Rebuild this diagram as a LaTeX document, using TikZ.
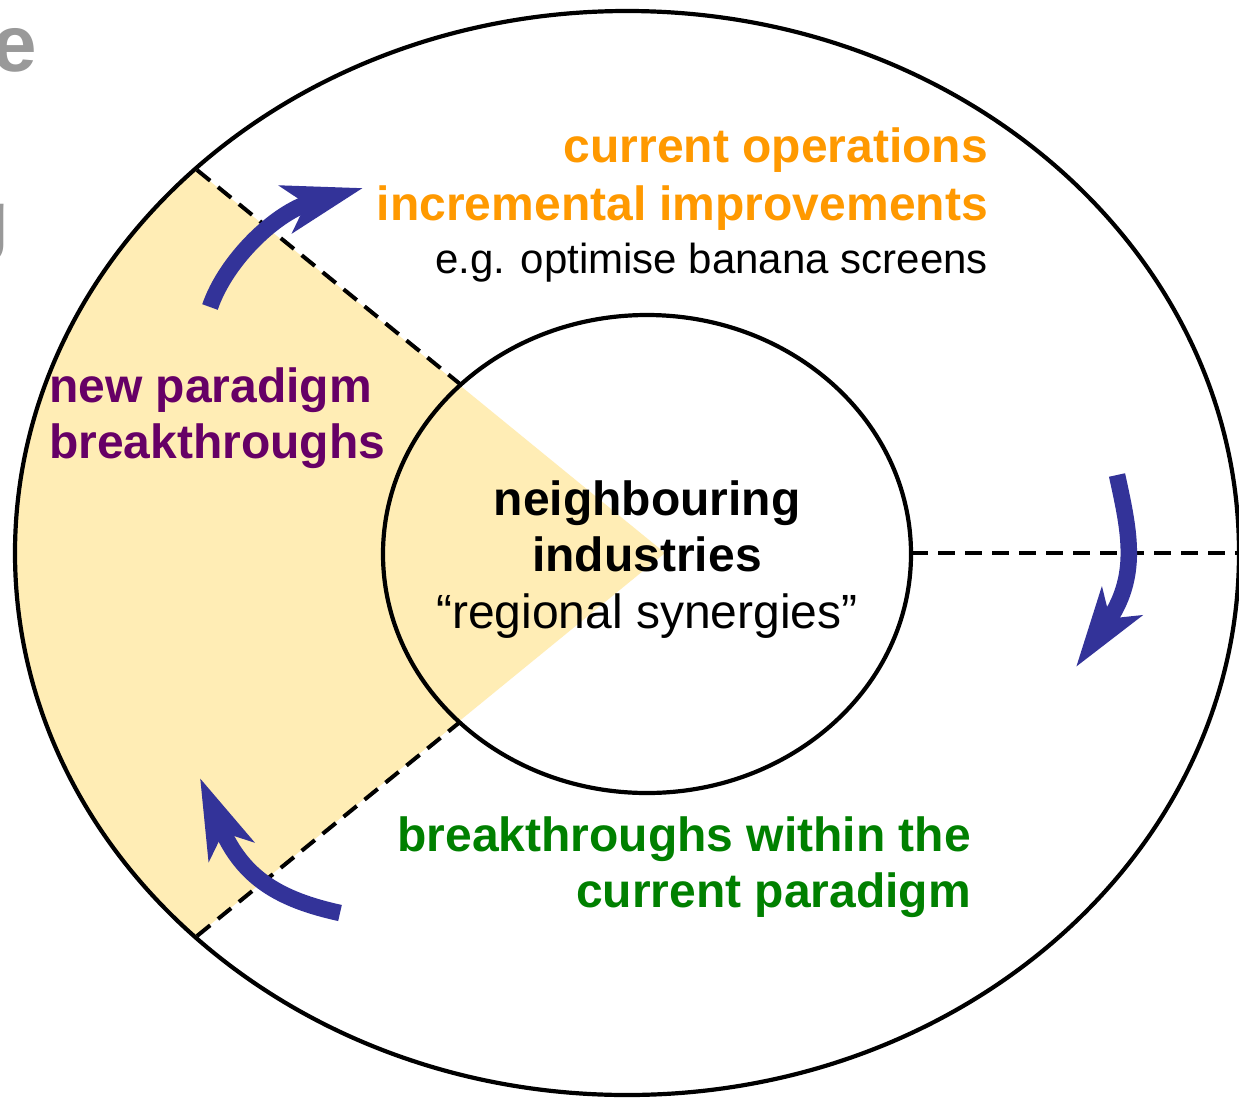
\documentclass[tikz,border=0pt]{standalone}
\usepackage{fontspec}
\setmainfont{Liberation Sans}
\usetikzlibrary{arrows.meta}
\definecolor{orangeT}{HTML}{FF9900}
\definecolor{purpleT}{HTML}{660066}
\definecolor{greenT}{HTML}{008000}
\definecolor{arrowblue}{HTML}{333399}
\definecolor{wedgeY}{HTML}{FFEDB5}
\definecolor{greyT}{HTML}{999999}
\begin{document}
\begin{tikzpicture}[x=1pt,y=-1pt,
  ring/.style={draw=black, line width=4.2pt},
  divider/.style={draw=black, line width=4pt, dash pattern=on 17pt off 10pt},
  bigarrow/.style={draw=arrowblue, line width=16.5pt,
     -{Stealth[length=79pt,width=48pt,inset=20pt]}},
  lab/.style={inner sep=0pt, font=\fontsize{48}{58}\selectfont},
  labB/.style={lab, font=\fontsize{48}{58}\selectfont\bfseries},
  small/.style={inner sep=0pt, font=\fontsize{42}{50}\selectfont},
  ghost/.style={inner sep=0pt, text=greyT, font=\fontsize{80}{96}\selectfont\bfseries}
]
\useasboundingbox (0,0) rectangle (1239,1098);
\clip (0,0) rectangle (1239,1098);
\fill[white] (0,0) rectangle (1239,1098);

% cut-off title letters
\node[ghost, anchor=base east] (ghostE) at (37.5,71) {e};
\node[ghost, anchor=base east] (ghostG) at (10,246) {g};

% yellow wedge
\begin{scope}
  \clip (627,553) ellipse [x radius=612pt, y radius=542pt];
  \fill[wedgeY] (665,553) -- (-100,-72) -- (-150,553) -- (-100,1178) -- cycle;
\end{scope}

% ellipses
\draw[ring] (627,553) ellipse [x radius=612pt, y radius=542pt];
\draw[ring] (647,554) ellipse [x radius=264pt, y radius=239pt];

% dividers
\coordinate (oUL) at (197,170);
\coordinate (iUL) at (460,384);
\coordinate (oLL) at (197,936);
\coordinate (iLL) at (460,722);
\coordinate (iR) at (911,553);
\coordinate (oR) at (1245,553);
\draw[divider] (oUL) -- (iUL);
\draw[divider] (oLL) -- (iLL);
\draw[divider] (iR) -- (oR);

% arrows
\coordinate (a1s) at (210,307);
\coordinate (a1e) at (363,188);
\draw[bigarrow] (a1s) .. controls (226,260) and (276,212) .. (a1e);
\coordinate (a2s) at (1117,475);
\coordinate (a2e) at (1076,667);
\draw[bigarrow] (a2s) .. controls (1130,534) and (1139,577) .. (a2e);
\coordinate (a3s) at (340,913);
\coordinate (a3e) at (200,778);
\draw[bigarrow] (a3s) .. controls (281,900) and (243,879) .. (a3e);

% texts
\node[labB, text=orangeT, anchor=base east] (cur) at (988,162) {current operations};
\node[labB, text=orangeT, anchor=base east] (inc) at (988,220) {incremental improvements};
\node[small, anchor=base east] (eg) at (988,273) {e.g. optimise banana screens};

\node[labB, text=purpleT, anchor=base west] (np) at (49,402) {new paradigm};
\node[labB, text=purpleT, anchor=base west] (bt) at (49,458) {breakthroughs};

\node[labB, anchor=base] (nb) at (647,515) {neighbouring};
\node[labB, anchor=base] (ind) at (647,571) {industries};
\node[lab, anchor=base] (reg) at (647,628) {“regional synergies”};

\node[labB, text=greenT, anchor=base east] (bw) at (971,851) {breakthroughs within the};
\node[labB, text=greenT, anchor=base east] (cp) at (971,907) {current paradigm};
\end{tikzpicture}
\end{document}
